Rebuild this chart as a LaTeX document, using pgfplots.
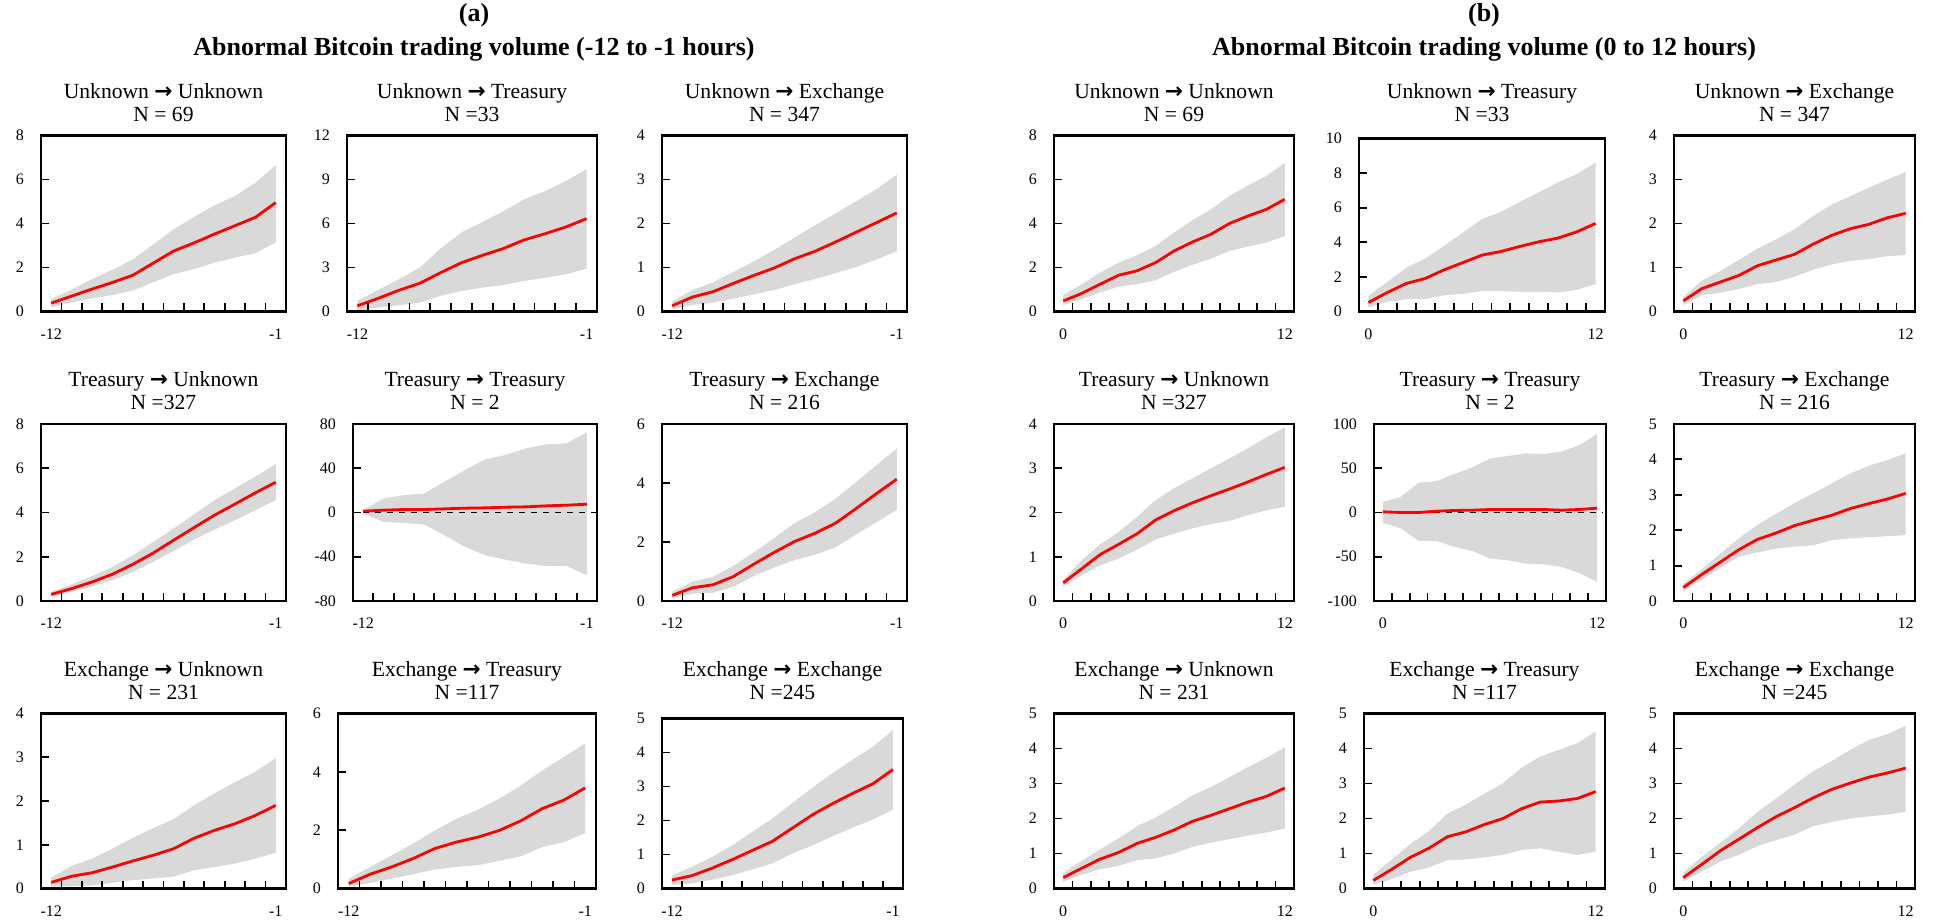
\documentclass[border=0pt]{standalone}
\usepackage{fontspec}
\setmainfont{Liberation Serif}
\newfontfamily\arrfont{DejaVu Sans}
\usepackage{pgfplots}
\pgfplotsset{compat=1.18}
\usepgfplotslibrary{fillbetween}
\usepackage{pgfplotstable}
\definecolor{band}{RGB}{217,217,217}
\newcommand{\arr}{{\arrfont\bfseries →}}

\pgfplotstableread{
x m u l
-12 0.38 0.56 0.18
-11 0.70 1.00 0.41
-10 1.02 1.47 0.60
-9 1.32 1.90 0.75
-8 1.65 2.37 0.95
-7 2.20 3.05 1.33
-6 2.75 3.74 1.70
-5 3.12 4.30 1.93
-4 3.52 4.83 2.22
-3 3.90 5.25 2.45
-2 4.28 5.85 2.65
-1 4.95 6.65 3.14
}\aUU
\pgfplotstableread{
x m u l
-12 0.39 0.73 0.05
-11 0.90 1.47 0.27
-10 1.45 2.20 0.43
-9 1.93 3.00 0.60
-8 2.65 4.30 1.07
-7 3.33 5.40 1.40
-6 3.83 6.10 1.63
-5 4.29 6.83 1.80
-4 4.88 7.65 2.08
-3 5.30 8.20 2.30
-2 5.76 8.90 2.54
-1 6.33 9.70 2.92
}\aUT
\pgfplotstableread{
x m u l
-12 0.13 0.23 0.05
-11 0.33 0.49 0.15
-10 0.45 0.66 0.20
-9 0.64 0.90 0.29
-8 0.82 1.14 0.39
-7 0.99 1.40 0.49
-6 1.20 1.68 0.62
-5 1.37 1.96 0.74
-4 1.58 2.23 0.87
-3 1.80 2.50 1.01
-2 2.02 2.78 1.18
-1 2.24 3.11 1.37
}\aUE
\pgfplotstableread{
x m u l
-12 0.30 0.41 0.21
-11 0.56 0.75 0.41
-10 0.86 1.12 0.66
-9 1.21 1.54 0.94
-8 1.66 2.07 1.31
-7 2.17 2.67 1.77
-6 2.75 3.28 2.26
-5 3.32 3.92 2.78
-4 3.88 4.56 3.23
-3 4.38 5.09 3.65
-2 4.89 5.62 4.10
-1 5.37 6.19 4.56
}\aTU
\pgfplotstableread{
x m u l
-12 1.2 2.0 -1.0
-11 2.1 12.7 -8.5
-10 2.7 15.7 -9.4
-9 2.7 17.2 -10.9
-8 3.3 27.8 -20.5
-7 3.9 38.4 -31.0
-6 4.2 48.0 -38.7
-5 4.8 52.0 -42.6
-4 5.1 58.0 -46.2
-3 6.0 61.6 -48.3
-2 6.6 62.5 -48.3
-1 7.5 72.5 -56.8
}\aTT
\pgfplotstableread{
x m u l
-12 0.19 0.31 0.08
-11 0.45 0.66 0.25
-10 0.55 0.82 0.28
-9 0.83 1.19 0.48
-8 1.25 1.65 0.85
-7 1.65 2.14 1.14
-6 2.02 2.64 1.39
-5 2.30 3.01 1.57
-4 2.64 3.47 1.82
-3 3.13 4.03 2.25
-2 3.64 4.60 2.67
-1 4.13 5.17 3.09
}\aTE
\pgfplotstableread{
x m u l
-12 0.14 0.25 0.04
-11 0.28 0.52 0.05
-10 0.36 0.68 0.07
-9 0.49 0.91 0.13
-8 0.63 1.16 0.19
-7 0.76 1.38 0.23
-6 0.91 1.59 0.27
-5 1.15 1.90 0.42
-4 1.33 2.18 0.49
-3 1.48 2.43 0.57
-2 1.67 2.67 0.68
-1 1.90 2.98 0.82
}\aEU
\pgfplotstableread{
x m u l
-12 0.17 0.34 0.06
-11 0.49 0.74 0.19
-10 0.74 1.14 0.34
-9 1.03 1.54 0.49
-8 1.37 1.99 0.65
-7 1.59 2.39 0.74
-6 1.76 2.70 0.80
-5 1.99 3.08 0.95
-4 2.32 3.53 1.10
-3 2.74 4.05 1.42
-2 3.03 4.50 1.59
-1 3.45 4.98 1.90
}\aET
\pgfplotstableread{
x m u l
-12 0.25 0.39 0.10
-11 0.38 0.64 0.15
-10 0.60 0.93 0.26
-9 0.85 1.27 0.39
-8 1.12 1.67 0.56
-7 1.39 2.06 0.74
-6 1.78 2.52 1.03
-5 2.17 2.97 1.27
-4 2.50 3.40 1.54
-3 2.80 3.79 1.79
-2 3.08 4.17 2.03
-1 3.50 4.66 2.32
}\aEE

\pgfplotstableread{
x m u l
0 0.48 0.74 0.29
1 0.82 1.24 0.56
2 1.24 1.77 0.86
3 1.65 2.22 1.13
4 1.85 2.56 1.24
5 2.22 2.98 1.42
6 2.75 3.59 1.80
7 3.16 4.15 2.12
8 3.51 4.64 2.40
9 4.00 5.25 2.75
10 4.34 5.73 2.95
11 4.64 6.16 3.13
12 5.10 6.76 3.43
}\bUU
\pgfplotstableread{
x m u l
0 0.52 0.91 0.23
1 1.10 1.71 0.56
2 1.62 2.54 0.71
3 1.91 3.06 0.71
4 2.41 3.80 0.94
5 2.83 4.57 1.02
6 3.26 5.34 1.19
7 3.47 5.76 1.18
8 3.76 6.34 1.14
9 4.03 6.88 1.14
10 4.24 7.46 1.10
11 4.60 7.94 1.25
12 5.09 8.61 1.58
}\bUT
\pgfplotstableread{
x m u l
0 0.24 0.33 0.14
1 0.52 0.70 0.37
2 0.67 0.92 0.43
3 0.82 1.17 0.51
4 1.04 1.43 0.62
5 1.17 1.64 0.67
6 1.30 1.87 0.79
7 1.53 2.17 0.95
8 1.73 2.43 1.07
9 1.88 2.62 1.15
10 1.98 2.81 1.19
11 2.13 3.00 1.26
12 2.23 3.17 1.28
}\bUE
\pgfplotstableread{
x m u l
0 0.41 0.48 0.33
1 0.73 0.92 0.58
2 1.05 1.28 0.81
3 1.28 1.56 0.96
4 1.52 1.90 1.16
5 1.83 2.28 1.39
6 2.04 2.55 1.52
7 2.22 2.77 1.64
8 2.38 3.00 1.74
9 2.53 3.22 1.81
10 2.69 3.45 1.94
11 2.86 3.70 2.05
12 3.02 3.92 2.13
}\bTU
\pgfplotstableread{
x m u l
0 0.8 12.0 -11.7
1 0.0 17.7 -18.0
2 0.0 33.6 -32.0
3 1.5 35.5 -32.0
4 2.3 43.4 -38.9
5 2.6 51.0 -43.4
6 3.4 61.0 -52.0
7 3.4 63.8 -54.0
8 3.4 66.8 -57.7
9 3.4 66.0 -58.5
10 2.6 68.7 -61.5
11 3.4 76.2 -68.3
12 4.9 88.7 -78.5
}\bTT
\pgfplotstableread{
x m u l
0 0.38 0.49 0.28
1 0.75 0.89 0.60
2 1.10 1.34 0.94
3 1.45 1.77 1.25
4 1.74 2.15 1.37
5 1.92 2.46 1.48
6 2.13 2.77 1.54
7 2.28 3.04 1.57
8 2.42 3.32 1.72
9 2.61 3.60 1.77
10 2.75 3.82 1.80
11 2.88 3.98 1.83
12 3.04 4.17 1.86
}\bTE
\pgfplotstableread{
x m u l
0 0.31 0.44 0.20
1 0.58 0.79 0.39
2 0.84 1.12 0.55
3 1.03 1.43 0.65
4 1.29 1.78 0.81
5 1.46 2.03 0.86
6 1.67 2.33 1.00
7 1.92 2.66 1.19
8 2.09 2.90 1.31
9 2.28 3.18 1.41
10 2.47 3.47 1.51
11 2.63 3.73 1.60
12 2.87 4.03 1.71
}\bEU
\pgfplotstableread{
x m u l
0 0.23 0.39 0.10
1 0.55 0.83 0.27
2 0.89 1.27 0.48
3 1.15 1.64 0.60
4 1.48 2.14 0.81
5 1.62 2.40 0.83
6 1.83 2.71 0.89
7 2.00 3.01 0.96
8 2.28 3.45 1.10
9 2.47 3.77 1.15
10 2.50 3.96 1.05
11 2.57 4.15 0.96
12 2.77 4.49 1.05
}\bET
\pgfplotstableread{
x m u l
0 0.31 0.45 0.20
1 0.69 0.91 0.48
2 1.08 1.31 0.77
3 1.41 1.72 0.96
4 1.74 2.19 1.21
5 2.05 2.57 1.38
6 2.31 2.97 1.54
7 2.59 3.35 1.78
8 2.83 3.64 1.90
9 3.01 3.96 2.00
10 3.18 4.24 2.06
11 3.30 4.41 2.11
12 3.44 4.65 2.19
}\bEE

\pgfplotsset{
  mypanel/.style={scale only axis, anchor=south west, axis on top,
    axis line style={line width=1.3pt},
    tick pos=left, tick align=inside,
    major tick length=4pt,
    tick style={black, line width=0.9pt},
    /pgf/number format/assume math mode=true,
    ticklabel style={font=\fontsize{8}{9.5}\selectfont},
    yticklabel style={xshift=-5pt},
    xticklabels={},
    extra x tick style={major tick length=0pt, xticklabel style={yshift=-5pt}},
    title style={at={(0.5,1)}, anchor=south, align=center,
      font=\fontsize{10.8}{11.5}\selectfont, yshift=-2.5pt}},
  mya/.style={xmin=-12.5, xmax=-0.5,
    xtick={-11.5,-10.5,...,-1.5}, extra x ticks={-12,-1}},
  myb/.style={xmin=-0.5, xmax=12.5,
    xtick={0.5,1.5,...,11.5}, extra x ticks={0,12}},
}
\newcommand{\myband}[1]{%
  \addplot[name path=U, draw=none] table[x=x,y=u]{#1};
  \addplot[name path=L, draw=none] table[x=x,y=l]{#1};
  \addplot[fill=band, draw=none] fill between[of=U and L];
}
\newcommand{\myred}[1]{%
  \addplot[red, line width=1.4pt] table[x=x,y=m]{#1};
}

\begin{document}
\begin{tikzpicture}
\node[font=\fontsize{13}{15}\selectfont\bfseries] at (237pt,454pt) {(a)};
\node[font=\fontsize{13}{15}\selectfont\bfseries] at (237pt,437pt) {Abnormal Bitcoin trading volume (-12 to -1 hours)};
\node[font=\fontsize{13}{15}\selectfont\bfseries] at (742pt,454pt) {(b)};
\node[font=\fontsize{13}{15}\selectfont\bfseries] at (742pt,437pt) {Abnormal Bitcoin trading volume (0 to 12 hours)};

% ---------- (a) row 1
\begin{axis}[mypanel, mya, at={(20.5pt,305.75pt)}, width=122.5pt, height=88pt,
  ymin=0, ymax=8, ytick={0,2,...,8}, title={Unknown \arr\ Unknown\\N = 69}]
\myband{\aUU}\myred{\aUU}
\end{axis}
\begin{axis}[mypanel, mya, at={(173.5pt,305.75pt)}, width=125pt, height=88pt,
  ymin=0, ymax=12, ytick={0,3,...,12}, title={Unknown \arr\ Treasury\\N =33}]
\myband{\aUT}\myred{\aUT}
\end{axis}
\begin{axis}[mypanel, mya, at={(331pt,305.75pt)}, width=122.5pt, height=88pt,
  ymin=0, ymax=4, ytick={0,1,...,4}, title={Unknown \arr\ Exchange\\N = 347}]
\myband{\aUE}\myred{\aUE}
\end{axis}
% ---------- (a) row 2
\begin{axis}[mypanel, mya, at={(20.5pt,161pt)}, width=122.5pt, height=88.5pt,
  ymin=0, ymax=8, ytick={0,2,...,8}, title={Treasury \arr\ Unknown\\N =327}]
\myband{\aTU}\myred{\aTU}
\end{axis}
\begin{axis}[mypanel, mya, at={(176.5pt,161pt)}, width=122pt, height=88.5pt,
  ymin=-80, ymax=80, ytick={-80,-40,...,80}, title={Treasury \arr\ Treasury\\N = 2}]
\myband{\aTT}
\addplot[black, dashed, line width=0.8pt] coordinates {(-12,0) (-0.5,0)};
\myred{\aTT}
\end{axis}
\begin{axis}[mypanel, mya, at={(331pt,161pt)}, width=122.5pt, height=88.5pt,
  ymin=0, ymax=6, ytick={0,2,...,6}, title={Treasury \arr\ Exchange\\N = 216}]
\myband{\aTE}\myred{\aTE}
\end{axis}
% ---------- (a) row 3
\begin{axis}[mypanel, mya, at={(20.5pt,17.25pt)}, width=122.5pt, height=87.5pt,
  ymin=0, ymax=4, ytick={0,1,...,4}, title={Exchange \arr\ Unknown\\N = 231}]
\myband{\aEU}\myred{\aEU}
\end{axis}
\begin{axis}[mypanel, mya, at={(169pt,17.25pt)}, width=129pt, height=87.5pt,
  ymin=0, ymax=6, ytick={0,2,...,6}, title={Exchange \arr\ Treasury\\N =117}]
\myband{\aET}\myred{\aET}
\end{axis}
\begin{axis}[mypanel, mya, at={(331pt,17.25pt)}, width=120.5pt, height=85pt,
  ymin=0, ymax=5, ytick={0,1,...,5}, title={Exchange \arr\ Exchange\\N =245},
  title style={yshift=2.5pt}]
\myband{\aEE}\myred{\aEE}
\end{axis}

% ---------- (b) row 1
\begin{axis}[mypanel, myb, at={(527pt,305.75pt)}, width=120pt, height=88pt,
  ymin=0, ymax=8, ytick={0,2,...,8}, title={Unknown \arr\ Unknown\\N = 69}]
\myband{\bUU}\myred{\bUU}
\end{axis}
\begin{axis}[mypanel, myb, at={(679.5pt,305.75pt)}, width=123pt, height=86.5pt,
  ymin=0, ymax=10, ytick={0,2,...,10}, title={Unknown \arr\ Treasury\\N =33},
  title style={yshift=1.5pt}]
\myband{\bUT}\myred{\bUT}
\end{axis}
\begin{axis}[mypanel, myb, at={(837pt,305.75pt)}, width=120.5pt, height=88pt,
  ymin=0, ymax=4, ytick={0,1,...,4}, title={Unknown \arr\ Exchange\\N = 347}]
\myband{\bUE}\myred{\bUE}
\end{axis}
% ---------- (b) row 2
\begin{axis}[mypanel, myb, at={(527pt,161pt)}, width=120pt, height=88.5pt,
  ymin=0, ymax=4, ytick={0,1,...,4}, title={Treasury \arr\ Unknown\\N =327}]
\myband{\bTU}\myred{\bTU}
\end{axis}
\begin{axis}[mypanel, myb, at={(687pt,161pt)}, width=116pt, height=88.5pt,
  ymin=-100, ymax=100, ytick={-100,-50,...,100}, title={Treasury \arr\ Treasury\\N = 2}]
\myband{\bTT}
\addplot[black, dashed, line width=0.8pt] coordinates {(-0.5,0) (12.3,0)};
\myred{\bTT}
\end{axis}
\begin{axis}[mypanel, myb, at={(837pt,161pt)}, width=120.5pt, height=88.5pt,
  ymin=0, ymax=5, ytick={0,1,...,5}, title={Treasury \arr\ Exchange\\N = 216}]
\myband{\bTE}\myred{\bTE}
\end{axis}
% ---------- (b) row 3
\begin{axis}[mypanel, myb, at={(527pt,17.25pt)}, width=120pt, height=87.5pt,
  ymin=0, ymax=5, ytick={0,1,...,5}, title={Exchange \arr\ Unknown\\N = 231}]
\myband{\bEU}\myred{\bEU}
\end{axis}
\begin{axis}[mypanel, myb, at={(682pt,17.25pt)}, width=120.5pt, height=87.5pt,
  ymin=0, ymax=5, ytick={0,1,...,5}, title={Exchange \arr\ Treasury\\N =117}]
\myband{\bET}\myred{\bET}
\end{axis}
\begin{axis}[mypanel, myb, at={(837pt,17.25pt)}, width=120.5pt, height=87.5pt,
  ymin=0, ymax=5, ytick={0,1,...,5}, title={Exchange \arr\ Exchange\\N =245}]
\myband{\bEE}\myred{\bEE}
\end{axis}
\pgfresetboundingbox
\path[use as bounding box] (0,0) rectangle (967pt,461.5pt);
\end{tikzpicture}
\end{document}
